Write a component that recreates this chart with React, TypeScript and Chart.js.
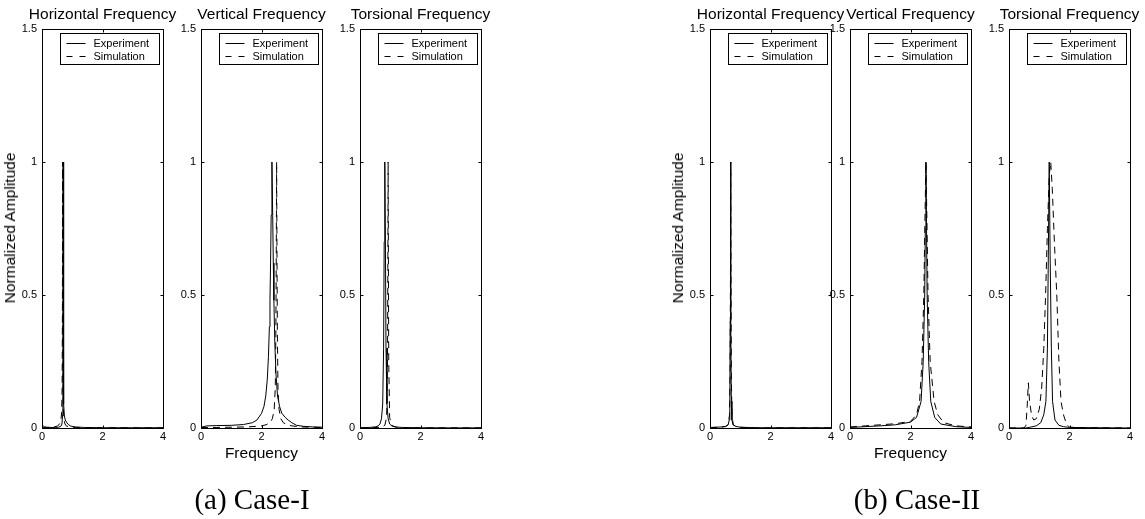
import React, { useEffect, useRef } from "react";
import { Chart, registerables } from "chart.js";

Chart.register(...registerables);

// ---------------- data ----------------
const xTicks = [0, 2, 4];
const yTicks = [0, 0.5, 1, 1.5];
const seriesLabels = ["Experiment", "Simulation"];
const panelTitles = ["Horizontal Frequency", "Vertical Frequency", "Torsional Frequency"];
const caseLabels = ["(a) Case-I", "(b) Case-II"];
const yAxisLabel = "Normalized Amplitude";
const xAxisLabel = "Frequency";

// Case-I, horizontal
const aHExpX = [0, 0.04, 0.08, 0.15, 0.3, 0.45, 0.55, 0.62, 0.66, 0.68, 0.69, 0.7, 0.71, 0.72, 0.74, 0.77, 0.82, 0.88, 0.95, 1.1, 1.4, 2, 3, 4];
const aHExpY = [0.003, 0.008, 0.005, 0.003, 0.002, 0.002, 0.003, 0.006, 0.015, 0.05, 0.3, 1.0, 0.3, 0.09, 0.045, 0.03, 0.02, 0.012, 0.007, 0.004, 0.002, 0.001, 0.001, 0.001];
const aHSimX = [0, 0.2, 0.4, 0.5, 0.56, 0.6, 0.63, 0.65, 0.665, 0.675, 0.68, 0.685, 0.695, 0.71, 0.73, 0.76, 0.8, 0.9, 1.1, 1.5, 2, 3, 4];
const aHSimY = [0.001, 0.002, 0.004, 0.007, 0.012, 0.02, 0.035, 0.06, 0.15, 0.45, 1.0, 0.45, 0.15, 0.06, 0.03, 0.015, 0.008, 0.004, 0.002, 0.001, 0.001, 0.0005, 0.0005];
// Case-I, vertical
const aVExpX = [0, 0.2, 0.5, 1.0, 1.4, 1.7, 1.85, 2.0, 2.08, 2.14, 2.19, 2.23, 2.26, 2.28, 2.3, 2.32, 2.345, 2.37, 2.39, 2.41, 2.44, 2.48, 2.53, 2.6, 2.67, 2.78, 2.88, 3.0, 3.16, 3.4, 3.7, 4.0];
const aVExpY = [0.003, 0.008, 0.009, 0.01, 0.013, 0.02, 0.03, 0.055, 0.08, 0.12, 0.18, 0.27, 0.38, 0.48, 0.62, 0.8, 1.0, 0.8, 0.62, 0.48, 0.32, 0.2, 0.12, 0.08, 0.056, 0.04, 0.03, 0.02, 0.01, 0.006, 0.004, 0.003];
const aVSimX = [0, 0.5, 1.0, 1.5, 1.8, 2.0, 2.15, 2.28, 2.36, 2.42, 2.455, 2.475, 2.49, 2.5, 2.51, 2.525, 2.545, 2.58, 2.64, 2.72, 2.85, 3.0, 3.3, 3.6, 4.0];
const aVSimY = [0.002, 0.002, 0.003, 0.004, 0.006, 0.008, 0.012, 0.02, 0.035, 0.07, 0.15, 0.35, 0.7, 1.0, 0.7, 0.35, 0.15, 0.07, 0.035, 0.02, 0.012, 0.008, 0.004, 0.003, 0.002];
// Case-I, torsional
const aTExpX = [0, 0.3, 0.5, 0.6, 0.66, 0.71, 0.75, 0.78, 0.8, 0.82, 0.84, 0.86, 0.89, 0.93, 0.98, 1.05, 1.15, 1.4, 2, 3, 4];
const aTExpY = [0.001, 0.002, 0.004, 0.008, 0.015, 0.035, 0.09, 0.3, 0.7, 1.0, 0.7, 0.3, 0.09, 0.035, 0.015, 0.008, 0.004, 0.002, 0.001, 0.0005, 0.0005];
const aTSimX = [0, 0.4, 0.7, 0.82, 0.88, 0.91, 0.92, 0.93, 0.94, 0.95, 0.98, 1.04, 1.2, 1.6, 2, 4];
const aTSimY = [0.0005, 0.001, 0.003, 0.01, 0.04, 0.25, 0.6, 1.0, 0.6, 0.25, 0.04, 0.01, 0.003, 0.001, 0.0005, 0.0003];

// Case-II, horizontal
const bHExpX = [0, 0.2, 0.4, 0.52, 0.6, 0.635, 0.655, 0.668, 0.68, 0.692, 0.705, 0.725, 0.76, 0.85, 1.0, 1.5, 2, 3, 4];
const bHExpY = [0.002, 0.003, 0.004, 0.006, 0.012, 0.03, 0.1, 0.4, 1.0, 0.4, 0.1, 0.03, 0.012, 0.006, 0.003, 0.001, 0.001, 0.001, 0.001];
const bHSimX = [0, 0.3, 0.5, 0.6, 0.645, 0.665, 0.677, 0.685, 0.693, 0.705, 0.725, 0.77, 0.9, 1.2, 2, 4];
const bHSimY = [0.001, 0.003, 0.005, 0.012, 0.05, 0.2, 0.6, 1.0, 0.6, 0.2, 0.05, 0.012, 0.004, 0.001, 0.0005, 0.0005];
// Case-II, vertical
const bVExpX = [0, 0.5, 1.0, 1.5, 2.0, 2.2, 2.35, 2.42, 2.47, 2.49, 2.51, 2.53, 2.55, 2.6, 2.67, 2.8, 3.0, 3.5, 4.0];
const bVExpY = [0.002, 0.005, 0.008, 0.012, 0.022, 0.04, 0.1, 0.25, 0.5, 0.75, 1.0, 0.75, 0.5, 0.25, 0.1, 0.04, 0.015, 0.005, 0.002];
const bVSimX = [0, 0.5, 1.0, 1.5, 2.0, 2.2, 2.3, 2.38, 2.44, 2.48, 2.51, 2.54, 2.58, 2.65, 2.78, 2.9, 3.1, 3.5, 4.0];
const bVSimY = [0.004, 0.008, 0.012, 0.016, 0.025, 0.05, 0.1, 0.25, 0.5, 0.8, 1.0, 0.8, 0.5, 0.25, 0.1, 0.05, 0.02, 0.008, 0.004];
// Case-II, torsional
const bTExpX = [0, 0.55, 0.7, 0.9, 1.05, 1.15, 1.22, 1.27, 1.3, 1.33, 1.36, 1.4, 1.44, 1.52, 1.65, 1.8, 2.0, 4];
const bTExpY = [0, 0, 0.003, 0.008, 0.02, 0.05, 0.1, 0.3, 0.65, 1.0, 0.65, 0.3, 0.1, 0.03, 0.01, 0.005, 0.002, 0];
const bTSimX = [0, 0.5, 0.56, 0.6, 0.64, 0.68, 0.75, 0.82, 0.9, 1.0, 1.08, 1.15, 1.21, 1.27, 1.33, 1.38, 1.43, 1.5, 1.58, 1.65, 1.72, 1.8, 1.9, 2.0, 2.5, 4];
const bTSimY = [0, 0, 0.01, 0.08, 0.17, 0.1, 0.045, 0.03, 0.035, 0.07, 0.15, 0.3, 0.5, 0.75, 0.95, 1.0, 0.9, 0.7, 0.5, 0.25, 0.1, 0.05, 0.015, 0.003, 0.001, 0];

// ---------------- layout / style ----------------
const FONT = "'Liberation Sans', Arial, Helvetica, sans-serif";
const SERIF = "'Liberation Serif', 'Times New Roman', serif";
const Y_AXIS_W = 28;
const RIGHT_W = 28;
const X_AXIS_H = 20;
const PLOT_W = 121;
const PLOT_TOP = 29;
const PLOT_BOTTOM = 428;
const TITLE_LINE = 17;
const TITLE_PAD_TOP = 4;
const TITLE_PAD_BOTTOM = 6;
const TITLE_BOX = TITLE_LINE + TITLE_PAD_TOP + TITLE_PAD_BOTTOM;
const CANVAS_TOP = PLOT_TOP - TITLE_BOX;
const CW = Y_AXIS_W + PLOT_W + RIGHT_W;
const CH = PLOT_BOTTOM - CANVAS_TOP + X_AXIS_H;
const SIM_DASH = [7, 5];
const LEGEND_DASH = [6, 7];
const LABEL_SIZE = 15.5;
const TICK_SIZE = 11;

type Series = { x: number[]; y: number[] };
type PanelDef = { left: number; title: string; exp: Series; sim: Series };

const panelLeftsA = [42, 201, 360];
const panelLeftsB = [710, 850, 1009];
const caseLabelCenters = [252, 917];

const panels: PanelDef[] = [
  { left: panelLeftsA[0], title: panelTitles[0], exp: { x: aHExpX, y: aHExpY }, sim: { x: aHSimX, y: aHSimY } },
  { left: panelLeftsA[1], title: panelTitles[1], exp: { x: aVExpX, y: aVExpY }, sim: { x: aVSimX, y: aVSimY } },
  { left: panelLeftsA[2], title: panelTitles[2], exp: { x: aTExpX, y: aTExpY }, sim: { x: aTSimX, y: aTSimY } },
  { left: panelLeftsB[0], title: panelTitles[0], exp: { x: bHExpX, y: bHExpY }, sim: { x: bHSimX, y: bHSimY } },
  { left: panelLeftsB[1], title: panelTitles[1], exp: { x: bVExpX, y: bVExpY }, sim: { x: bVSimX, y: bVSimY } },
  { left: panelLeftsB[2], title: panelTitles[2], exp: { x: bTExpX, y: bTExpY }, sim: { x: bTSimX, y: bTSimY } },
];

const toPoints = (s: Series) => s.x.map((x, i) => ({ x, y: s.y[i] }));

const framePlugin = {
  id: "matlabFrame",
  afterDatasetsDraw(chart: any) {
    const { ctx, chartArea } = chart;
    const l = Math.round(chartArea.left) + 0.5;
    const t = Math.round(chartArea.top) + 0.5;
    const r = Math.round(chartArea.right) + 0.5;
    const b = Math.round(chartArea.bottom) + 0.5;
    const tl = 3;
    ctx.save();
    ctx.strokeStyle = "#000";
    ctx.lineWidth = 1;
    ctx.setLineDash([]);
    ctx.strokeRect(l, t, r - l, b - t);
    ctx.beginPath();
    const xs = chart.scales.x;
    const ys = chart.scales.y;
    xTicks.forEach((v) => {
      const px = Math.round(xs.getPixelForValue(v)) + 0.5;
      ctx.moveTo(px, b);
      ctx.lineTo(px, b - tl);
      ctx.moveTo(px, t);
      ctx.lineTo(px, t + tl);
    });
    yTicks.forEach((v) => {
      const py = Math.round(ys.getPixelForValue(v)) + 0.5;
      ctx.moveTo(l, py);
      ctx.lineTo(l + tl, py);
      ctx.moveTo(r, py);
      ctx.lineTo(r - tl, py);
    });
    ctx.stroke();
    ctx.restore();
  },
};

const legendPlugin = {
  id: "matlabLegend",
  afterDraw(chart: any) {
    const { ctx, chartArea } = chart;
    const w = 99;
    const h = 31;
    const x0 = Math.round(chartArea.right - 4 - w) + 0.5;
    const y0 = Math.round(chartArea.top + 4) + 0.5;
    ctx.save();
    ctx.fillStyle = "#fff";
    ctx.fillRect(x0, y0, w, h);
    ctx.strokeStyle = "#000";
    ctx.lineWidth = 1;
    ctx.setLineDash([]);
    ctx.strokeRect(x0, y0, w, h);
    ctx.font = `11px ${FONT}`;
    ctx.textBaseline = "middle";
    ctx.textAlign = "left";
    chart.data.datasets.forEach((ds: any, i: number) => {
      const yy = Math.round(y0 + 9 + i * 13) + 0.5;
      ctx.setLineDash(ds.borderDash && ds.borderDash.length ? LEGEND_DASH : []);
      ctx.beginPath();
      ctx.moveTo(x0 + 6, yy);
      ctx.lineTo(x0 + 25, yy);
      ctx.stroke();
      ctx.setLineDash([]);
      ctx.fillStyle = "#000";
      ctx.fillText(ds.label, x0 + 33, yy);
    });
    ctx.restore();
  },
};

const tickFmt = (v: any) => String(Number(v));

function Panel({ def }: { def: PanelDef }) {
  const ref = useRef<HTMLCanvasElement>(null);
  useEffect(() => {
    const canvas = ref.current;
    if (!canvas) return;
    const chart = new Chart(canvas, {
      type: "line",
      data: {
        datasets: [
          {
            label: seriesLabels[0],
            data: toPoints(def.exp),
            borderColor: "#000",
            borderWidth: 1,
            pointRadius: 0,
            tension: 0,
            fill: false,
          },
          {
            label: seriesLabels[1],
            data: toPoints(def.sim),
            borderColor: "#000",
            borderWidth: 1,
            borderDash: SIM_DASH,
            pointRadius: 0,
            tension: 0,
            fill: false,
          },
        ],
      },
      options: {
        animation: false,
        responsive: false,
        maintainAspectRatio: false,
        events: [],
        layout: { padding: 0 },
        plugins: {
          legend: { display: false },
          tooltip: { enabled: false },
          title: {
            display: true,
            text: def.title,
            color: "#000",
            font: { family: FONT, size: LABEL_SIZE, weight: "normal", lineHeight: `${TITLE_LINE}px` },
            padding: { top: TITLE_PAD_TOP, bottom: TITLE_PAD_BOTTOM },
          },
        },
        scales: {
          x: {
            type: "linear",
            min: 0,
            max: 4,
            afterBuildTicks: (s: any) => {
              s.ticks = xTicks.map((v) => ({ value: v }));
            },
            afterFit: (s: any) => {
              s.height = X_AXIS_H;
            },
            ticks: { color: "#000", font: { family: FONT, size: TICK_SIZE }, padding: 2, maxRotation: 0, autoSkip: false, callback: tickFmt },
            grid: { display: false, drawTicks: false },
            border: { display: false },
          },
          y: {
            type: "linear",
            position: "left",
            min: 0,
            max: 1.5,
            afterBuildTicks: (s: any) => {
              s.ticks = yTicks.map((v) => ({ value: v }));
            },
            afterFit: (s: any) => {
              s.width = Y_AXIS_W;
            },
            ticks: { color: "#000", font: { family: FONT, size: TICK_SIZE }, padding: 5, autoSkip: false, callback: tickFmt },
            grid: { display: false, drawTicks: false },
            border: { display: false },
          },
          yR: {
            type: "linear",
            axis: "y",
            position: "right",
            min: 0,
            max: 1.5,
            afterFit: (s: any) => {
              s.width = RIGHT_W;
            },
            ticks: { display: false },
            grid: { display: false, drawTicks: false },
            border: { display: false },
          },
        },
      } as any,
      plugins: [framePlugin, legendPlugin],
    });
    return () => chart.destroy();
  }, [def]);
  return (
    <canvas
      ref={ref}
      width={CW}
      height={CH}
      style={{ position: "absolute", left: def.left - Y_AXIS_W, top: CANVAS_TOP, width: CW, height: CH }}
    />
  );
}

const textStyle: React.CSSProperties = {
  position: "absolute",
  whiteSpace: "nowrap",
  fontFamily: FONT,
  fontSize: LABEL_SIZE,
  color: "#000",
  lineHeight: "18px",
};

export default function App() {
  const groups = [panelLeftsA, panelLeftsB];
  return (
    <div style={{ position: "absolute", left: 0, top: 0, width: 1145, height: 519, background: "#fff", overflow: "hidden" }}>
      {panels.map((p, i) => (
        <Panel key={i} def={p} />
      ))}
      {groups.map((lefts, i) => (
        <React.Fragment key={i}>
          <div style={{ ...textStyle, left: lefts[0] - 32, top: 228, transform: "translate(-50%, -50%) rotate(-90deg)" }}>
            {yAxisLabel}
          </div>
          <div style={{ ...textStyle, left: lefts[1] + PLOT_W / 2, top: 453, transform: "translate(-50%, -50%)" }}>
            {xAxisLabel}
          </div>
          <div
            style={{
              ...textStyle,
              fontFamily: SERIF,
              fontSize: 29,
              lineHeight: "32px",
              left: caseLabelCenters[i],
              top: 499,
              transform: "translate(-50%, -50%)",
            }}
          >
            {caseLabels[i]}
          </div>
        </React.Fragment>
      ))}
    </div>
  );
}
